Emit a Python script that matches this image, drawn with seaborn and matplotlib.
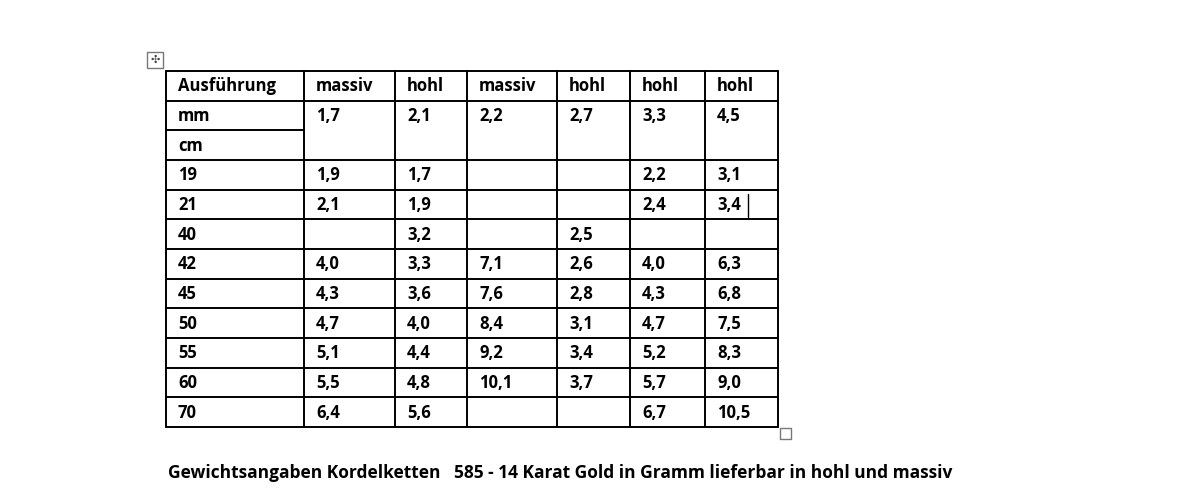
import matplotlib
matplotlib.use("Agg")
import matplotlib.pyplot as plt
import seaborn as sns
from matplotlib.patches import Rectangle

sns.set_style("white")
plt.rcParams['font.family'] = ['Open Sans', 'DejaVu Sans']

header = ["Ausführung", "massiv", "hohl", "massiv", "hohl", "hohl", "hohl"]
mm_values = ["1,7", "2,1", "2,2", "2,7", "3,3", "4,5"]
lengths = ["19", "21", "40", "42", "45", "50", "55", "60", "70"]
weights = [
    ["1,9", "1,7", "", "", "2,2", "3,1"],
    ["2,1", "1,9", "", "", "2,4", "3,4"],
    ["", "3,2", "", "2,5", "", ""],
    ["4,0", "3,3", "7,1", "2,6", "4,0", "6,3"],
    ["4,3", "3,6", "7,6", "2,8", "4,3", "6,8"],
    ["4,7", "4,0", "8,4", "3,1", "4,7", "7,5"],
    ["5,1", "4,4", "9,2", "3,4", "5,2", "8,3"],
    ["5,5", "4,8", "10,1", "3,7", "5,7", "9,0"],
    ["6,4", "5,6", "", "", "6,7", "10,5"],
]
caption = "Gewichtsangaben Kordelketten   585 - 14 Karat Gold in Gramm lieferbar in hohl und massiv"

cols = [166, 304, 395, 467, 557, 630, 705, 778]
top, bottom = 71, 427
nrows = 3 + len(lengths)
rh = (bottom - top) / nrows
rows = [top + i * rh for i in range(nrows + 1)]

fig = plt.figure(figsize=(11.79, 5.0), dpi=100)
ax = fig.add_axes([0, 0, 1, 1])
ax.set_xlim(0, 1179)
ax.set_ylim(500, 0)
ax.axis("off")

lw = 1.4
# vertical lines
for c in cols:
    ax.plot([c, c], [top, bottom], color="black", lw=lw)
# horizontal lines
for i, r in enumerate(rows):
    if i == 2:
        ax.plot([cols[0], cols[1]], [r, r], color="black", lw=lw)
    else:
        ax.plot([cols[0], cols[-1]], [r, r], color="black", lw=lw)

fs = 12
def put(col, row, s):
    ax.text(cols[col] + 12, rows[row] + rh * 0.52, s, fontsize=fs, fontweight="bold",
            ha="left", va="center", color="black")

for j, h in enumerate(header):
    put(j, 0, h)
put(0, 1, "mm")
put(0, 2, "cm")
for j, v in enumerate(mm_values):
    put(j + 1, 1, v)
for i, (L, row) in enumerate(zip(lengths, weights)):
    put(0, i + 3, L)
    for j, v in enumerate(row):
        put(j + 1, i + 3, v)

# cursor mark
ax.plot([748, 748], [rows[4] + 4, rows[5] - 2], color="black", lw=1)
# move handle and resize handle
ax.add_patch(Rectangle((147, 52), 16, 16, fill=False, ec="#777777", lw=1))
ax.text(155, 60, "✣", fontsize=8, ha="center", va="center", color="#444444", family="DejaVu Sans")
ax.add_patch(Rectangle((780, 428), 11, 11, fill=False, ec="#777777", lw=1))

ax.text(168, 473, caption, fontsize=12.5, fontweight="bold", ha="left", va="center", color="black")

fig.savefig("out.png", dpi=100)
